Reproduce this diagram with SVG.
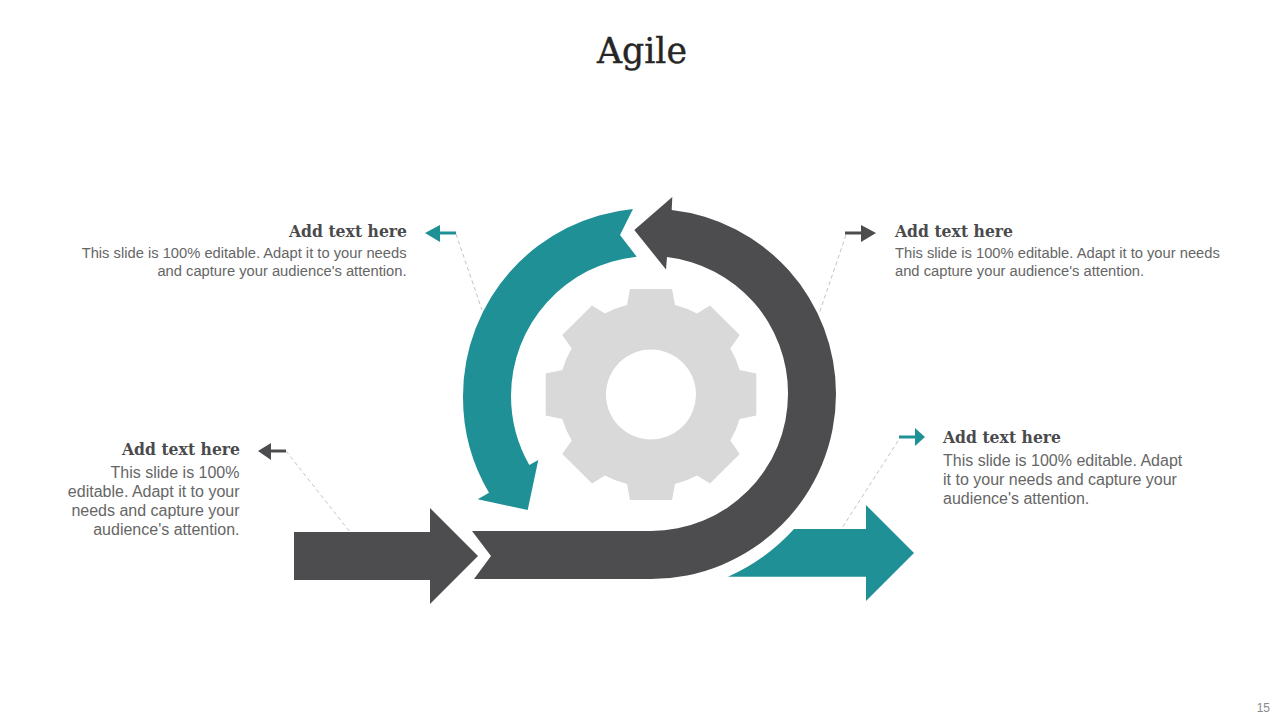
<svg xmlns="http://www.w3.org/2000/svg" width="1280" height="720" viewBox="0 0 1280 720">
<style>
.dark{fill:#4d4d4f}
.teal{fill:#1f9196}
.head{font-family:"DejaVu Serif",serif;font-weight:bold;font-size:17px;fill:#4a4a4c}
.body{font-family:"Liberation Sans",Arial,sans-serif;font-size:14.72px;fill:#666666}
.big{font-size:16px}
.dash{fill:none;stroke:#c4c4c4;stroke-width:1;stroke-dasharray:4 3}
.sd{stroke:#4d4d4f;stroke-width:3;fill:none}
.st{stroke:#1f9196;stroke-width:3;fill:none}
.r{text-anchor:end}
</style>
<rect width="1280" height="720" fill="#fff"/>
<text id="title" x="642" y="63" text-anchor="middle" font-family="DejaVu Serif, serif" font-size="35" fill="#262626" stroke="#262626" stroke-width="0.4" textLength="90" lengthAdjust="spacingAndGlyphs">Agile</text>
<g id="connectors">
<path class="dash" d="M456 234L482 310"/>
<path class="dash" d="M846 235L819 314"/>
<path class="dash" d="M286 451L350 532"/>
<path class="dash" d="M898 441L842 528"/>
<path class="st" d="M456 233H438"/><path class="teal" d="M425 233L440 225V242Z"/>
<path class="sd" d="M845 233H863"/><path class="dark" d="M876 233L861 225V242Z"/>
<path class="sd" d="M286 451H268"/><path class="dark" d="M258 451L271 443V460Z"/>
<path class="st" d="M899 437H917"/><path class="teal" d="M925 437L915 428V446Z"/>
</g>
<g id="gear"><path fill="#d9d9d9" fill-rule="evenodd" d="M630 289H672L675 305A93 93 0 0 1 697 313.500L710 305.500L739.700 335L730.300 348.500A93 93 0 0 1 739.700 370L756.300 373.500V415.500L739.700 419A93 93 0 0 1 730.300 440.500L739.700 454L710 483.500L697 475.500A93 93 0 0 1 675 484L672 500H630L627 484A93 93 0 0 1 605 475.500L592 483.500L562.300 454L571.700 440.500A93 93 0 0 1 562.300 419L545.700 415.500V373.500L562.300 370A93 93 0 0 1 571.700 348.500L562.300 335L592 305.500L605 313.500A93 93 0 0 1 627 305ZM696 394.500A45 45 0 1 0 606 394.500A45 45 0 1 0 696 394.500Z"/></g>
<g id="arrow-start"><path class="dark" d="M294 532H430V508L478 556L430 604V580H294Z"/></g>
<g id="arrow-loop"><path class="dark" d="M472 531L491 556L474 579H651A185 185 0 0 0 836 394A185 185 0 0 0 671.700 210L672.300 197L634.300 230L666 269.500L667 257A137 137 0 0 1 788 394A137 137 0 0 1 651 531Z"/></g>
<g id="arrow-teal-arc"><path class="teal" d="M633 209L620 235L636.700 256.700A140 140 0 0 0 511 396A140 140 0 0 0 529.300 465L538.300 460L527.700 510L477.700 499.300L489 492.700A188 188 0 0 1 463 396A188 188 0 0 1 633 209Z"/></g>
<g id="arrow-out"><path class="teal" d="M728 576.700A197 197 0 0 0 794 529H866V505L914 553L866 601V576.700Z"/></g>
<g id="note-tl"><text class="head r" x="407" y="237" textLength="118" lengthAdjust="spacingAndGlyphs">Add text here</text><text class="body r" x="406.500" y="258">This slide is 100% editable. Adapt it to your needs</text><text class="body r" x="406.500" y="276">and capture your audience's attention.</text></g>
<g id="note-tr"><text class="head" x="895" y="237" textLength="118" lengthAdjust="spacingAndGlyphs">Add text here</text><text class="body" x="895" y="258">This slide is 100% editable. Adapt it to your needs</text><text class="body" x="895" y="276">and capture your audience's attention.</text></g>
<g id="note-bl"><text class="head r" x="240" y="455" textLength="118" lengthAdjust="spacingAndGlyphs">Add text here</text><text class="body big r" x="239.500" y="477.500">This slide is 100%</text><text class="body big r" x="239.500" y="496.500">editable. Adapt it to your</text><text class="body big r" x="239.500" y="515.500">needs and capture your</text><text class="body big r" x="239.500" y="534.500">audience's attention.</text></g>
<g id="note-br"><text class="head" x="943" y="443" textLength="118" lengthAdjust="spacingAndGlyphs">Add text here</text><text class="body big" x="943" y="465.500">This slide is 100% editable. Adapt</text><text class="body big" x="943" y="484.500">it to your needs and capture your</text><text class="body big" x="943" y="503.500">audience's attention.</text></g>
<text id="page" x="1270" y="712" text-anchor="end" font-family="Liberation Sans, Arial, sans-serif" font-size="12" fill="#8a8a8a">15</text>
</svg>
